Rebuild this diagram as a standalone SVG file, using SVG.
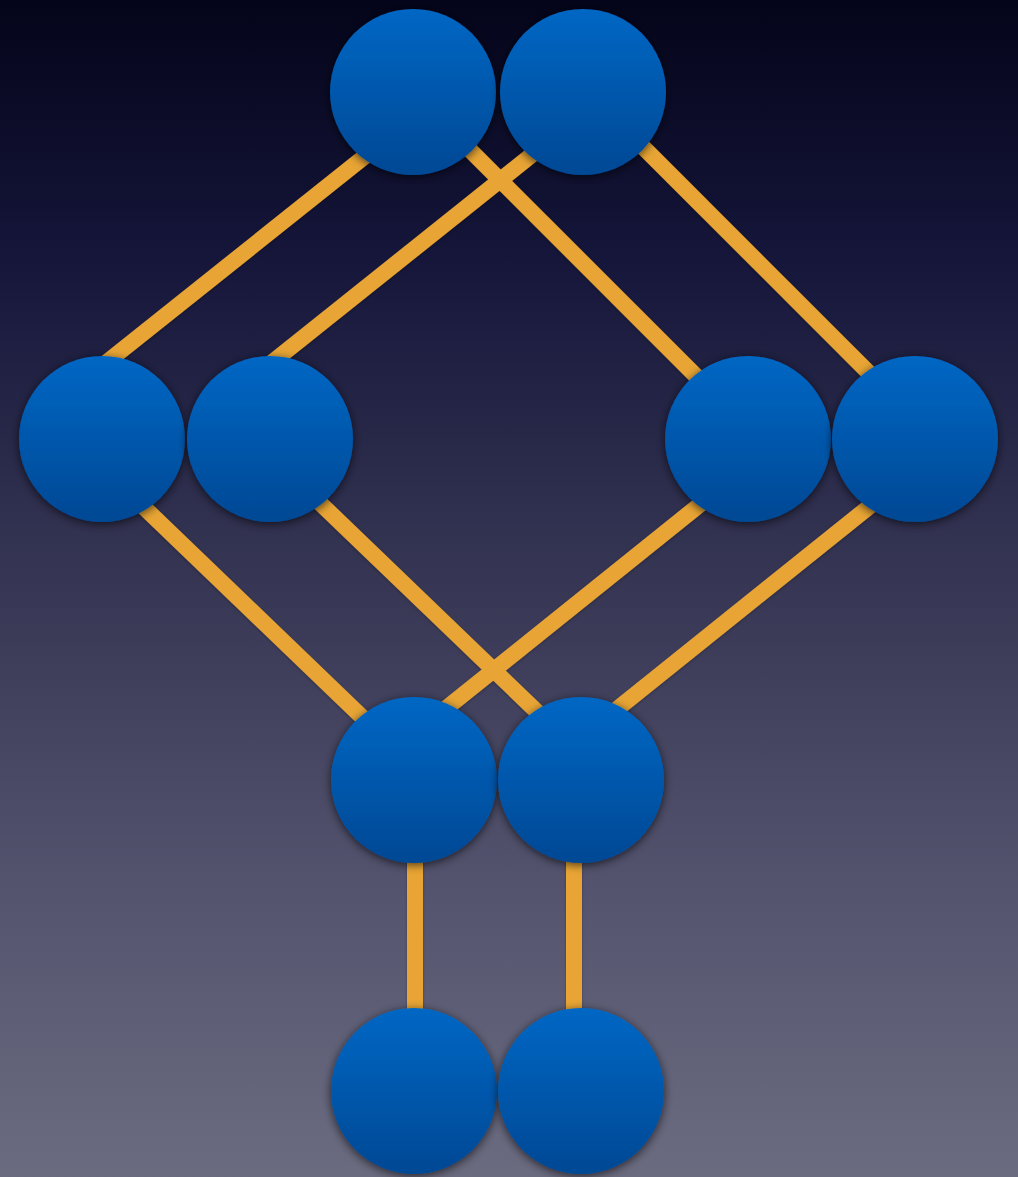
<svg xmlns="http://www.w3.org/2000/svg" width="1018" height="1177" viewBox="0 0 1018 1177">
  <defs>
    <linearGradient id="bg" x1="0" y1="0" x2="0" y2="1">
      <stop offset="0" stop-color="#04041a"/>
      <stop offset="0.22" stop-color="#15163a"/>
      <stop offset="0.5" stop-color="#373755"/>
      <stop offset="0.75" stop-color="#53536e"/>
      <stop offset="1" stop-color="#6b6b80"/>
    </linearGradient>
    <linearGradient id="ball" x1="0" y1="0" x2="0" y2="1">
      <stop offset="0" stop-color="#0067c4"/>
      <stop offset="1" stop-color="#064894"/>
    </linearGradient>
    <filter id="shadow" x="-30%" y="-30%" width="160%" height="160%">
      <feDropShadow dx="0" dy="2" stdDeviation="5" flood-color="#000000" flood-opacity="0.65"/>
    </filter>
    <filter id="lshadow" x="-10%" y="-10%" width="120%" height="120%">
      <feDropShadow dx="0" dy="1" stdDeviation="1.5" flood-color="#000000" flood-opacity="0.3"/>
    </filter>
  </defs>
  <style>
    .edge { stroke: #e8a535; stroke-width: 16; fill: none; stroke-linecap: butt; }
    .node { fill: url(#ball); filter: url(#shadow); }
  </style>
  <rect x="0" y="0" width="1018" height="1177" fill="url(#bg)"/>
  <g id="connectors" filter="url(#lshadow)">
    <line class="edge" x1="102" y1="366" x2="413" y2="118"/>
    <line class="edge" x1="270" y1="364" x2="583" y2="114"/>
    <line class="edge" x1="412" y1="92" x2="748" y2="428"/>
    <line class="edge" x1="588" y1="92" x2="915" y2="419"/>
    <line class="edge" x1="102" y1="467" x2="414" y2="767"/>
    <line class="edge" x1="270" y1="455" x2="581" y2="754"/>
    <line class="edge" x1="748" y1="466" x2="414" y2="734"/>
    <line class="edge" x1="915" y1="470" x2="581" y2="738"/>
    <line class="edge" x1="415" y1="780" x2="415" y2="1091"/>
    <line class="edge" x1="574" y1="780" x2="574" y2="1091"/>
  </g>
  <g id="n1"><circle class="node" cx="413" cy="92" r="83"/></g>
  <g id="n2"><circle class="node" cx="583" cy="92" r="83"/></g>
  <g id="n3"><circle class="node" cx="102" cy="439" r="83"/></g>
  <g id="n4"><circle class="node" cx="270" cy="439" r="83"/></g>
  <g id="n5"><circle class="node" cx="748" cy="439" r="83"/></g>
  <g id="n6"><circle class="node" cx="915" cy="439" r="83"/></g>
  <g id="n7"><circle class="node" cx="414" cy="780" r="83"/></g>
  <g id="n8"><circle class="node" cx="581" cy="780" r="83"/></g>
  <g id="n9"><circle class="node" cx="414" cy="1091" r="83"/></g>
  <g id="n10"><circle class="node" cx="581" cy="1091" r="83"/></g>
</svg>
